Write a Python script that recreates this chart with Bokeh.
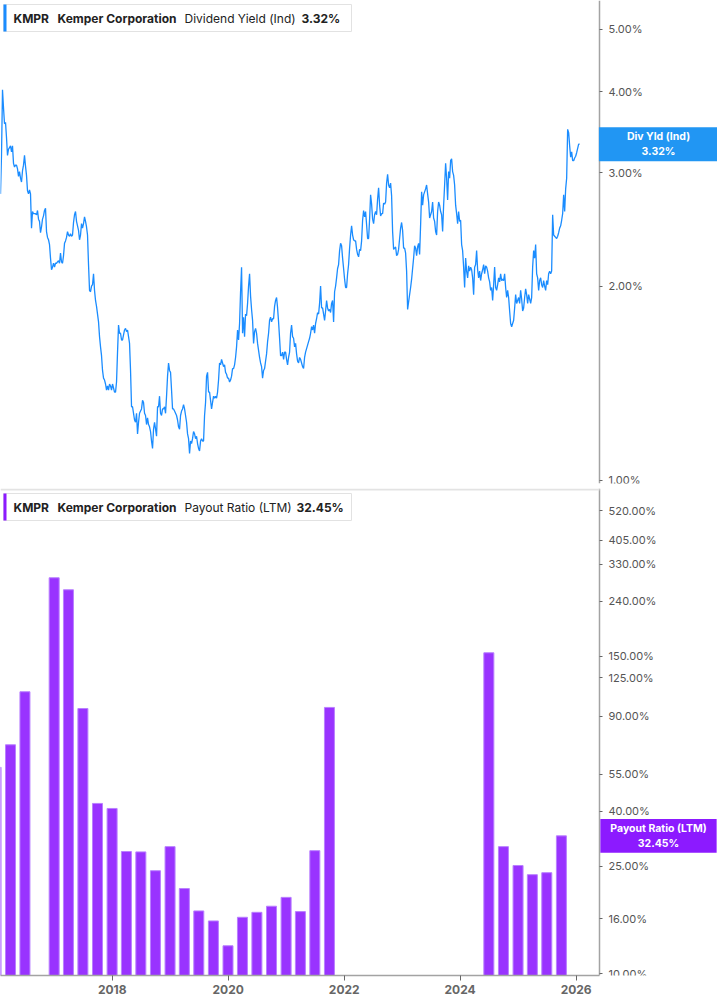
import pandas as pd
from bokeh.plotting import figure
from bokeh.layouts import column
from bokeh.models import (Range1d, FixedTicker, PrintfTickFormatter,
                          DatetimeTickFormatter, Label, BoxAnnotation)
from bokeh.embed import file_html
from bokeh.resources import INLINE

symbol = "KMPR"
company = "Kemper Corporation"
yield_name = "Dividend Yield (Ind)"
yield_tag = "Div Yld (Ind)"
payout_name = "Payout Ratio (LTM)"

# dividend yield in % at even steps from Jan 2016 to Jan 2026
div_yield = [
    2.78, 3.19, 4.03, 3.78, 3.57, 3.59, 3.40, 3.19, 3.26, 3.28,
    3.30, 3.23, 3.30, 3.10, 3.06, 3.08, 3.08, 3.04, 2.96, 3.01,
    2.94, 2.90, 3.02, 3.08, 3.19, 3.07, 2.97, 2.81, 2.78, 2.82,
    2.78, 2.46, 2.61, 2.59, 2.59, 2.59, 2.58, 2.62, 2.54, 2.52,
    2.42, 2.47, 2.54, 2.57, 2.62, 2.64, 2.43, 2.38, 2.36, 2.32,
    2.21, 2.12, 2.14, 2.17, 2.14, 2.17, 2.17, 2.18, 2.19, 2.17,
    2.25, 2.18, 2.17, 2.23, 2.33, 2.35, 2.38, 2.43, 2.40, 2.39,
    2.41, 2.39, 2.40, 2.51, 2.58, 2.61, 2.52, 2.48, 2.44, 2.36,
    2.40, 2.50, 2.46, 2.50, 2.56, 2.52, 2.47, 2.40, 2.16, 1.97,
    1.96, 2.00, 2.01, 2.09, 1.97, 1.90, 1.86, 1.81, 1.76, 1.67,
    1.61, 1.56, 1.48, 1.44, 1.43, 1.41, 1.38, 1.40, 1.38, 1.41,
    1.40, 1.38, 1.41, 1.39, 1.37, 1.37, 1.42, 1.58, 1.74, 1.69,
    1.69, 1.65, 1.65, 1.68, 1.71, 1.72, 1.70, 1.71, 1.67, 1.63,
    1.48, 1.30, 1.30, 1.27, 1.24, 1.23, 1.27, 1.18, 1.23, 1.27,
    1.28, 1.29, 1.33, 1.32, 1.27, 1.26, 1.22, 1.25, 1.22, 1.21,
    1.19,
    1.15, 1.12, 1.20, 1.23, 1.20, 1.17, 1.30, 1.30, 1.35, 1.27,
    1.26, 1.29, 1.29, 1.30, 1.27, 1.35, 1.45, 1.52, 1.48, 1.47,
    1.38, 1.29, 1.29, 1.28, 1.27, 1.26, 1.24, 1.21, 1.20, 1.26,
    1.28, 1.29, 1.31, 1.29, 1.26, 1.23, 1.18, 1.16, 1.10, 1.15,
    1.14, 1.16, 1.19, 1.18, 1.16, 1.17, 1.14, 1.12, 1.11, 1.15,
    1.16, 1.15, 1.15, 1.26, 1.32, 1.45, 1.47, 1.37, 1.37, 1.33,
    1.29, 1.32, 1.35, 1.34, 1.35, 1.34, 1.37, 1.43, 1.52, 1.51,
    1.54, 1.52, 1.50, 1.51, 1.47, 1.46, 1.44, 1.44, 1.42, 1.43,
    1.45, 1.49, 1.49, 1.51, 1.55, 1.61, 1.71, 1.65, 1.75, 1.96,
    2.14, 1.69, 1.79, 1.67, 1.81, 1.80, 1.88, 2.00, 2.09, 1.93,
    1.84, 1.77, 1.63, 1.70, 1.72, 1.69, 1.63, 1.59, 1.55, 1.52,
    1.50, 1.44, 1.48, 1.49, 1.53, 1.57, 1.64, 1.69, 1.77, 1.79,
    1.76, 1.78, 1.78, 1.86, 1.90, 1.92, 1.85, 1.76, 1.66, 1.56,
    1.56, 1.58, 1.54, 1.58, 1.58, 1.54, 1.51, 1.55, 1.58, 1.69,
    1.74, 1.67, 1.66, 1.61, 1.63,
    1.57, 1.53, 1.52, 1.55, 1.54, 1.52, 1.50, 1.49, 1.55, 1.58,
    1.60, 1.62, 1.64, 1.66, 1.69, 1.73, 1.71, 1.74, 1.69, 1.75,
    1.78, 1.82, 1.81, 1.88, 2.00, 1.85, 1.85, 1.81, 1.77, 1.83,
    1.90, 1.85, 1.83, 1.84, 1.82, 1.88, 1.90, 1.76, 1.96, 2.00,
    2.06, 2.13, 2.16, 2.27, 2.33, 2.31, 2.21, 2.13, 2.05, 1.99,
    1.99, 2.09, 2.16, 2.29, 2.40, 2.48, 2.40, 2.36, 2.35, 2.35,
    2.28, 2.24, 2.22, 2.28, 2.27, 2.35, 2.53, 2.62, 2.56, 2.61,
    2.49, 2.37, 2.37, 2.54, 2.77, 2.68, 2.54, 2.50, 2.58, 2.61,
    2.58, 2.73, 2.84, 2.67, 2.57, 2.59, 2.59, 2.69, 2.68, 2.70,
    2.89, 2.98, 2.87, 2.84, 2.89, 2.76, 2.43, 2.28, 2.29, 2.30,
    2.23, 2.24, 2.28, 2.37, 2.46, 2.51, 2.44, 2.29, 2.29, 2.25,
    2.11, 1.84, 1.89, 1.94, 1.99, 2.05, 2.13, 2.21, 2.31, 2.29,
    2.23, 2.30, 2.33, 2.24, 2.49, 2.80, 2.67, 2.77, 2.80, 2.83,
    2.87, 2.78, 2.70, 2.55, 2.58, 2.61, 2.70, 2.55, 2.52, 2.43,
    2.40, 2.61, 2.70, 2.67, 2.61,
    2.58, 2.43, 2.67, 2.87, 3.10, 2.94, 2.72, 3.01, 2.94, 3.13,
    3.15, 3.01, 2.97, 2.87, 2.67, 2.59, 2.50, 2.61, 2.52, 2.53,
    2.32, 2.27, 2.14, 1.99, 2.21, 2.11, 2.06, 2.15, 2.11, 2.14,
    2.12, 2.06, 1.94, 2.14, 2.16, 2.27, 2.12, 2.06, 2.11, 2.04,
    2.09, 2.12, 2.16, 2.09, 2.15, 2.14, 2.11, 2.06, 2.03, 1.97,
    1.99, 1.90, 2.01, 2.14, 1.99, 1.97, 2.01, 2.06, 2.03, 2.09,
    2.04, 2.05, 2.04, 2.09, 1.99, 1.92, 1.97, 1.92, 1.83, 1.75,
    1.73, 1.75, 1.77, 1.85, 1.94, 1.88, 1.90, 1.92, 1.88, 1.97,
    1.91, 1.83, 1.85, 1.92, 1.98, 1.94, 1.88, 1.94, 1.91, 1.88,
    1.92, 2.14, 2.27, 2.21, 2.32, 2.09, 2.06, 1.97, 2.04, 2.06,
    2.01, 1.99, 2.04, 2.00, 1.97, 2.04, 2.01, 2.09, 2.11, 2.09,
    2.11, 2.58, 2.40, 2.39, 2.38, 2.37, 2.39, 2.42, 2.46, 2.48,
    2.53, 2.59, 2.77, 2.61, 2.83, 2.94, 3.50, 3.46, 3.30, 3.17,
    3.23, 3.13, 3.13, 3.16, 3.18, 3.22, 3.27, 3.32, 3.32,
]
yield_start = "2016-01-28"
yield_end = "2026-01-23"

# quarterly payout ratio in % (quarters with no value are left out)
payout_dates = [
    "2015-12-31", "2016-03-31", "2016-06-30", "2016-12-31", "2017-03-31",
    "2017-06-30", "2017-09-30", "2017-12-31", "2018-03-31", "2018-06-30",
    "2018-09-30", "2018-12-31", "2019-03-31", "2019-06-30", "2019-09-30",
    "2019-12-31", "2020-03-31", "2020-06-30", "2020-09-30", "2020-12-31",
    "2021-03-31", "2021-06-30", "2021-09-30", "2024-06-30", "2024-09-30",
    "2024-12-31", "2025-03-31", "2025-06-30", "2025-09-30",
]
payout_ratio = [
    58.3, 70.6, 111.0, 293.6, 265.0, 96.2, 42.8, 41.0, 28.4, 28.3,
    24.1, 29.6, 20.7, 17.1, 15.7, 12.7, 16.2, 16.9, 17.8, 19.2,
    17.0, 28.6, 97.1, 154.8, 29.6, 25.2, 23.3, 23.7, 32.45,
]

yield_ticks = [1, 2, 3, 4, 5]
payout_ticks = [10, 16, 25, 40, 55, 90, 125, 150, 240, 330, 405, 520]
year_ticks = [2018, 2020, 2022, 2024, 2026]

FONT = "Inter"
BLUE = "#1a8cff"
PURPLE = "#8c1aff"
BAR = "#9933ff"

W, PLOT_W = 717, 599   # whole width / width of the data area

yield_dates = pd.date_range(yield_start, yield_end, periods=len(div_yield))
bar_dates = pd.to_datetime(payout_dates)
bar_width = 63 * 24 * 3600 * 1000  # ms

# the frame runs the whole width, the value axis sits at the end of the data area
view_start = pd.Timestamp("2016-01-28")
view_end = pd.Timestamp("2026-05-28")
full_end = view_end + (view_end - view_start) * (W - PLOT_W) / PLOT_W
axis_at = view_end.value / 1e6
x_range = Range1d(view_start, full_end)


def make_fig(height, y_range, bottom_border):
    p = figure(width=W, height=height, x_range=x_range, y_range=y_range,
               x_axis_type="datetime", y_axis_type="log",
               x_axis_location="below" if bottom_border else None,
               y_axis_location="right", toolbar_location=None,
               output_backend="svg", min_border_left=0, min_border_right=0,
               min_border_top=0, min_border_bottom=bottom_border,
               outline_line_color=None, background_fill_color="white",
               border_fill_color="white")
    p.grid.visible = False
    return p


def style_y(p, ticks):
    ax = p.yaxis[0]
    ax.fixed_location = axis_at
    ax.ticker = FixedTicker(ticks=ticks)
    ax.formatter = PrintfTickFormatter(format="%.2f%%")
    ax.axis_line_color = "#a3a3a3"
    ax.axis_line_width = 1.5
    ax.major_tick_line_color = "#666666"
    ax.major_tick_out = 3
    ax.major_tick_in = 0
    ax.minor_tick_line_color = None
    ax.major_label_text_font = FONT
    ax.major_label_text_font_size = "11px"
    ax.major_label_text_color = "#555555"
    ax.major_label_standoff = 6


def add_legend(p, color, name, value, top, value_x):
    p.add_layout(BoxAnnotation(left=3, right=351, top=top, bottom=top + 27,
                               left_units="canvas", right_units="canvas",
                               top_units="canvas", bottom_units="canvas",
                               fill_color="white", fill_alpha=1,
                               line_color="#e2e2e2", line_alpha=1, line_width=1))
    p.add_layout(BoxAnnotation(left=3, right=6, top=top, bottom=top + 27,
                               left_units="canvas", right_units="canvas",
                               top_units="canvas", bottom_units="canvas",
                               fill_color=color, fill_alpha=1, line_color=None))
    parts = [(symbol, 13, "bold"), (company, 57, "bold"),
             (name, 184, "normal"), (value, value_x, "bold")]
    for txt, x, style in parts:
        p.add_layout(Label(x=x, y=top + 13.5, x_units="canvas", y_units="canvas",
                           text=txt, text_baseline="middle", text_align="left",
                           text_font=FONT, text_font_size="12px",
                           text_font_style=style, text_color="#222222"))


def add_value_tag(p, color, text, value, pad):
    # padding is (horizontal, vertical)
    p.add_layout(Label(x=(PLOT_W + W) / 2, x_units="canvas", y=value, y_units="data",
                       text=text, text_align="center", text_baseline="middle",
                       text_font=FONT, text_font_size="10.5px", text_line_height=1.15,
                       text_font_style="bold", text_color="white",
                       background_fill_color=color, background_fill_alpha=1,
                       padding=(pad, 3)))


# top panel: dividend yield
p1 = make_fig(488, Range1d(0.9884, 5.545), None)
p1.line(yield_dates, div_yield, line_color=BLUE, line_width=1.3)
style_y(p1, yield_ticks)
add_legend(p1, BLUE, yield_name, f"{div_yield[-1]:.2f}%", 4, 301)
add_value_tag(p1, "#2196f3", f"{yield_tag}\n{div_yield[-1]:.2f}%", div_yield[-1], 28)

# bottom panel: payout ratio
p2 = make_fig(517, Range1d(9.856, 629), 30)
p2.vbar(x=bar_dates, top=payout_ratio, bottom=1, width=bar_width,
        fill_color=BAR, line_color="#b980ff", line_width=1)
style_y(p2, payout_ticks)
p2.add_layout(BoxAnnotation(top=0, bottom=2, top_units="canvas", bottom_units="canvas",
                            right=axis_at, fill_color="#e3e3e3", fill_alpha=1,
                            line_color=None))
add_legend(p2, PURPLE, payout_name, f"{payout_ratio[-1]:.2f}%", 5, 296)
add_value_tag(p2, PURPLE, f"{payout_name}\n{payout_ratio[-1]:.2f}%", payout_ratio[-1], 10)

xa = p2.xaxis[0]
xa.bounds = (view_start, view_end)
xa.ticker = FixedTicker(ticks=[pd.Timestamp(f"{y}-01-01").value / 1e6 for y in year_ticks])
xa.formatter = DatetimeTickFormatter(years="%Y", months="%Y", days="%Y")
xa.axis_line_color = "#a3a3a3"
xa.axis_line_width = 1.5
xa.major_tick_line_color = "#666666"
xa.major_tick_out = 5
xa.major_tick_in = 0
xa.minor_tick_line_color = None
xa.major_label_text_font = FONT
xa.major_label_text_font_size = "12px"
xa.major_label_text_font_style = "bold"
xa.major_label_text_color = "#666666"
xa.major_label_standoff = 4

p = column(p1, p2)
open("out.html", "w").write(file_html(p, INLINE))
